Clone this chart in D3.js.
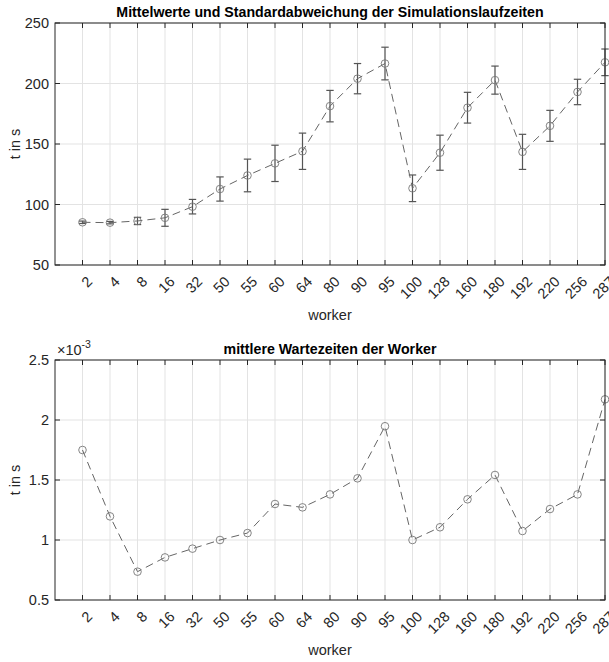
<!DOCTYPE html>
<html>
<head>
<meta charset="utf-8">
<script src="https://cdn.jsdelivr.net/npm/d3@7"></script>
<style>
  body { margin: 0; background: #fff; }
  text { font-family: "Liberation Sans", Arial, sans-serif; fill: #262626; }
</style>
</head>
<body>
<div id="chart"></div>
<script>
const width = 609
const height = 662

const workers = ["2", "4", "8", "16", "32", "50", "55", "60", "64", "80", "90", "95", "100", "128", "160", "180", "192", "220", "256", "287"]
const meanTimes = [85.3, 85, 86.4, 89, 98.2, 112.8, 124, 134, 144, 181.3, 204, 216.5, 113.4, 142.8, 180, 202.8, 143.5, 165, 193, 217.5]
const stdTimes = [1, 1, 3, 7, 6, 10, 13.5, 15, 15, 13, 12.5, 13.5, 11, 14.5, 12.7, 11.6, 14.5, 12.8, 10.5, 11]
const waitTimes = [1.75, 1.197, 0.736, 0.855, 0.928, 1.0, 1.058, 1.3, 1.272, 1.38, 1.514, 1.948, 1.0, 1.106, 1.339, 1.542, 1.075, 1.258, 1.38, 2.172]
const topTicks = [50, 100, 150, 200, 250]
const bottomTicks = [0.5, 1, 1.5, 2, 2.5]

const svg = d3.select("#chart").append("svg")
    .attr("width", width)
    .attr("height", height)

const x = d3.scaleLinear().domain([0, 20]).range([55, 605])

const drawPanel = (cfg) => {
    const y = d3.scaleLinear().domain(cfg.domain).range([cfg.bottom, cfg.top])
    const g = svg.append("g")

    // grid
    g.selectAll(".vgrid").data(workers).join("line")
        .attr("x1", (d, i) => x(i + 1)).attr("x2", (d, i) => x(i + 1))
        .attr("y1", cfg.top).attr("y2", cfg.bottom)
        .style("stroke", "#e3e3e3").style("stroke-width", 1)
    g.selectAll(".hgrid").data(cfg.ticks).join("line")
        .attr("x1", x(0)).attr("x2", x(20))
        .attr("y1", d => y(d)).attr("y2", d => y(d))
        .style("stroke", "#e3e3e3").style("stroke-width", 1)

    // error bars
    if (cfg.err) {
        const eb = g.selectAll(".eb").data(cfg.values).join("g")
            .style("stroke", "#555").style("stroke-width", 1.2)
        eb.append("line")
            .attr("x1", (d, i) => x(i + 1)).attr("x2", (d, i) => x(i + 1))
            .attr("y1", (d, i) => y(d - cfg.err[i])).attr("y2", (d, i) => y(d + cfg.err[i]))
        eb.append("line")
            .attr("x1", (d, i) => x(i + 1) - 3.7).attr("x2", (d, i) => x(i + 1) + 3.7)
            .attr("y1", (d, i) => y(d - cfg.err[i])).attr("y2", (d, i) => y(d - cfg.err[i]))
        eb.append("line")
            .attr("x1", (d, i) => x(i + 1) - 3.7).attr("x2", (d, i) => x(i + 1) + 3.7)
            .attr("y1", (d, i) => y(d + cfg.err[i])).attr("y2", (d, i) => y(d + cfg.err[i]))
    }

    // dashed line
    const line = d3.line().x((d, i) => x(i + 1)).y(d => y(d))
    g.append("path").datum(cfg.values)
        .attr("d", line)
        .style("fill", "none").style("stroke", "#666")
        .style("stroke-width", 1).style("stroke-dasharray", "8,5")

    // markers
    g.selectAll(".mk").data(cfg.values).join("circle")
        .attr("cx", (d, i) => x(i + 1)).attr("cy", d => y(d))
        .attr("r", 3.8)
        .style("fill", "none").style("stroke", "#777").style("stroke-width", 0.9)

    // axes box
    g.append("rect")
        .attr("x", x(0)).attr("y", cfg.top)
        .attr("width", x(20) - x(0)).attr("height", cfg.bottom - cfg.top)
        .style("fill", "none").style("stroke", "#262626").style("stroke-width", 1)

    // inward ticks
    const tl = 5
    g.selectAll(".xtb").data(workers).join("line")
        .attr("x1", (d, i) => x(i + 1)).attr("x2", (d, i) => x(i + 1))
        .attr("y1", cfg.bottom).attr("y2", cfg.bottom - tl)
        .style("stroke", "#262626")
    g.selectAll(".xtt").data(workers).join("line")
        .attr("x1", (d, i) => x(i + 1)).attr("x2", (d, i) => x(i + 1))
        .attr("y1", cfg.top).attr("y2", cfg.top + tl)
        .style("stroke", "#262626")
    g.selectAll(".ytl").data(cfg.ticks).join("line")
        .attr("x1", x(0)).attr("x2", x(0) + tl)
        .attr("y1", d => y(d)).attr("y2", d => y(d))
        .style("stroke", "#262626")
    g.selectAll(".ytr").data(cfg.ticks).join("line")
        .attr("x1", x(20)).attr("x2", x(20) - tl)
        .attr("y1", d => y(d)).attr("y2", d => y(d))
        .style("stroke", "#262626")

    // tick labels
    g.selectAll(".ylab").data(cfg.ticks).join("text")
        .attr("x", x(0) - 6).attr("y", d => y(d)).attr("dy", "0.35em")
        .attr("text-anchor", "end").style("font-size", "14.5px")
        .text(d => d)
    g.selectAll(".xlab").data(workers).join("text")
        .attr("transform", (d, i) => `translate(${x(i + 1) + 7},${cfg.bottom + 14}) rotate(-45)`)
        .attr("dy", "0.35em")
        .attr("text-anchor", "end").style("font-size", "14.5px")
        .text(d => d)

    // titles
    g.append("text")
        .attr("x", (x(0) + x(20)) / 2).attr("y", cfg.top - 6)
        .attr("text-anchor", "middle")
        .style("font-size", "14.2px").style("font-weight", "bold").style("fill", "#000")
        .text(cfg.title)
    g.append("text")
        .attr("x", (x(0) + x(20)) / 2).attr("y", cfg.bottom + 55)
        .attr("text-anchor", "middle").style("font-size", "14.5px")
        .text("worker")
    g.append("text")
        .attr("transform", `translate(15,${(cfg.top + cfg.bottom) / 2}) rotate(-90)`)
        .attr("text-anchor", "middle").attr("dy", "0.35em").style("font-size", "14.5px")
        .text("t in s")
    return g
}

drawPanel({
    top: 23, bottom: 265, domain: [50, 250], ticks: topTicks,
    values: meanTimes, err: stdTimes,
    title: "Mittelwerte und Standardabweichung der Simulationslaufzeiten"
})

const bottomPanel = drawPanel({
    top: 360, bottom: 600, domain: [0.5, 2.5], ticks: bottomTicks,
    values: waitTimes, err: null,
    title: "mittlere Wartezeiten der Worker"
})

// exponent label
const expo = bottomPanel.append("text")
    .attr("x", 57).attr("y", 355).style("font-size", "14.5px")
expo.append("tspan").text("\u00d710")
expo.append("tspan").attr("dy", -7).style("font-size", "10.5px").text("-3")
</script>
</body>
</html>
